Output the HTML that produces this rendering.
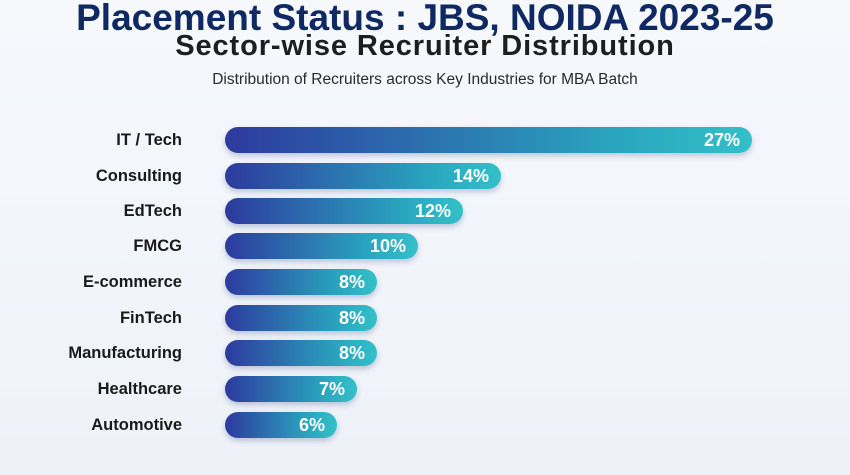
<!DOCTYPE html>
<html><head><meta charset="utf-8"><style>
body{margin:0;width:850px;height:475px;overflow:hidden;background:linear-gradient(180deg,#f6f8fc,#eef2f8);font-family:"Liberation Sans",sans-serif;position:relative}
.t1{position:absolute;left:0;width:850px;top:-3px;text-align:center;font-size:37px;font-weight:bold;color:#0f2a63;letter-spacing:0px}
.t2{position:absolute;left:0;width:850px;top:30px;text-align:center;font-size:29px;font-weight:bold;color:#1e1e1e;letter-spacing:0.9px}
.t3{position:absolute;left:0;width:850px;top:71px;text-align:center;font-size:15.5px;color:#2a2a2a}
.lab{position:absolute;right:668px;font-size:16.5px;font-weight:bold;color:#1a1a1a;line-height:26px}
.bar{position:absolute;left:225px;height:26px;border-radius:13px;background:linear-gradient(90deg,#2d3a9e,#2aa6bf 75%,#33c0c8);box-shadow:0 3px 6px rgba(30,50,120,.25);color:#fff;font-weight:bold;font-size:18px;line-height:26px;text-align:right;box-sizing:border-box;padding-right:12px}
</style></head><body>
<div class="t1">Placement Status : JBS, NOIDA 2023-25</div>
<div class="t2">Sector-wise Recruiter Distribution</div>
<div class="t3">Distribution of Recruiters across Key Industries for MBA Batch</div>
<div class="lab" style="top:127px">IT / Tech</div><div class="bar" style="top:127px;width:527px">27%</div>
<div class="lab" style="top:163px">Consulting</div><div class="bar" style="top:163px;width:276px">14%</div>
<div class="lab" style="top:198px">EdTech</div><div class="bar" style="top:198px;width:238px">12%</div>
<div class="lab" style="top:233px">FMCG</div><div class="bar" style="top:233px;width:193px">10%</div>
<div class="lab" style="top:269px">E-commerce</div><div class="bar" style="top:269px;width:152px">8%</div>
<div class="lab" style="top:305px">FinTech</div><div class="bar" style="top:305px;width:152px">8%</div>
<div class="lab" style="top:340px">Manufacturing</div><div class="bar" style="top:340px;width:152px">8%</div>
<div class="lab" style="top:376px">Healthcare</div><div class="bar" style="top:376px;width:132px">7%</div>
<div class="lab" style="top:412px">Automotive</div><div class="bar" style="top:412px;width:112px">6%</div>
</body></html>
